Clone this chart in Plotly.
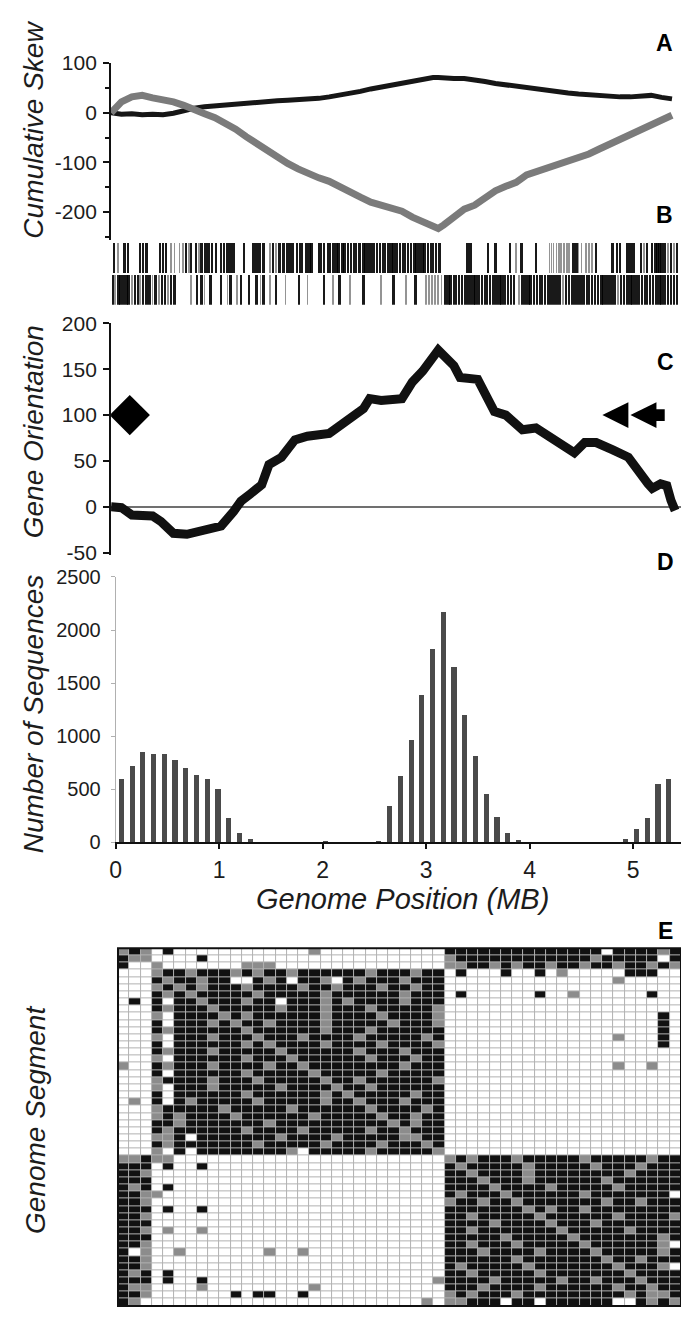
import plotly.graph_objects as go

W, H = 681, 1317

# ---- panel A: cumulative skew along the genome (MB)
skew_mb = [0.0, 0.1, 0.2, 0.3, 0.4, 0.5, 0.6, 0.7, 0.8, 0.9, 1.0, 1.1, 1.2, 1.3, 1.4, 1.5,
           1.6, 1.7, 1.8, 1.9, 2.0, 2.1, 2.2, 2.3, 2.4, 2.5, 2.6, 2.7, 2.8, 2.9, 3.0, 3.1,
           3.15, 3.2, 3.3, 3.4, 3.5, 3.6, 3.7, 3.8, 3.9, 4.0, 4.1, 4.2, 4.3, 4.4, 4.5, 4.6,
           4.7, 4.8, 4.9, 5.0, 5.1, 5.2, 5.3, 5.4]
skew_black = [0, -3, -2, -4, -3, -4, -1, 5, 9, 12, 14, 16, 18, 19, 21, 22,
              24, 25, 26, 27, 29, 32, 35, 39, 43, 48, 52, 57, 61, 65, 68, 71,
              71, 70, 69, 69, 67, 63, 59, 56, 53, 50, 47, 45, 43, 40, 38, 36,
              35, 33, 32, 32, 33, 35, 31, 28]
skew_gray = [0, 22, 32, 35, 30, 27, 22, 15, 5, -2, -10, -20, -33, -48, -62, -77,
             -92, -102, -113, -123, -131, -138, -150, -160, -170, -180, -186, -190, -198, -210, -220, -228,
             -233, -226, -212, -194, -186, -170, -157, -148, -140, -125, -118, -113, -103, -96, -90, -83,
             -73, -63, -55, -44, -33, -22, -12, -5]

# ---- panel B: gene positions (MB) on each strand
top_dark = [0.03, 0.13, 0.165, 0.28, 0.31, 0.34, 0.47, 0.50, 0.53, 0.72, 0.77, 0.82, 0.87, 0.91,
            0.94, 0.97, 1.01, 1.06, 1.09, 1.12, 1.15, 1.18, 1.28, 1.37, 1.40, 1.43, 1.47, 1.56,
            1.62, 1.66, 1.70, 1.73, 1.75, 1.79, 1.82, 1.84, 1.88, 1.91, 1.93, 2.00, 2.02, 2.05,
            2.09, 2.11, 2.14, 2.17, 2.19, 2.23, 2.25, 2.28, 2.31, 2.34, 2.36, 2.39, 2.43, 2.45,
            2.48, 2.51, 2.53, 2.56, 2.59, 2.62, 2.64, 2.67, 2.70, 2.72, 2.75, 2.78, 2.81, 2.83,
            2.86, 2.89, 2.92, 2.94, 2.97, 3.00, 3.02, 3.05, 3.08, 3.10, 3.13, 3.16, 3.43, 3.46,
            3.63, 3.70, 3.84, 3.95, 4.09, 4.45, 4.48, 4.67, 4.83, 4.87, 4.90, 4.97, 5.00, 5.03,
            5.10, 5.16, 5.21, 5.24, 5.26, 5.28, 5.30, 5.33, 5.39, 5.45]
top_light = [0.07, 0.58, 0.61, 0.66, 0.69, 0.75, 0.85, 1.53, 1.59, 3.90, 4.22, 4.24, 4.26,
             4.29, 4.31, 4.33, 4.36, 4.39, 4.41, 4.50, 4.53, 4.57, 4.60, 4.63, 5.13, 5.36, 5.42]
bot_dark = [0.02, 0.07, 0.09, 0.12, 0.15, 0.17, 0.23, 0.26, 0.31, 0.34, 0.37, 0.43, 0.49, 0.52,
            0.58, 0.61, 0.83, 0.87, 0.96, 1.06, 1.15, 1.25, 1.33, 1.40, 1.47, 1.59, 1.81, 2.05,
            2.20, 2.43, 2.72, 2.93, 3.22, 3.25, 3.27, 3.30, 3.32, 3.35, 3.38, 3.41, 3.43, 3.46,
            3.49, 3.51, 3.54, 3.57, 3.60, 3.62, 3.65, 3.68, 3.71, 3.74, 3.76, 3.79, 3.82, 3.85,
            3.88, 3.96, 3.99, 4.02, 4.04, 4.07, 4.10, 4.13, 4.15, 4.18, 4.21, 4.24, 4.27, 4.30,
            4.32, 4.38, 4.41, 4.44, 4.46, 4.49, 4.52, 4.55, 4.58, 4.60, 4.63, 4.66, 4.69, 4.72,
            4.74, 4.77, 4.80, 4.83, 4.85, 4.91, 4.94, 4.97, 5.00, 5.02, 5.05, 5.08, 5.11, 5.14,
            5.16, 5.19, 5.22, 5.25, 5.28, 5.30, 5.33, 5.36, 5.39, 5.42, 5.45]
bot_light = [0.04, 0.20, 0.28, 0.40, 0.46, 0.55, 0.77, 0.90, 1.12, 1.21, 1.44, 1.53, 1.68,
             1.89, 2.14, 2.30, 2.60, 2.84, 3.03, 3.06, 3.09, 3.12, 3.15, 3.18, 3.93, 4.35, 4.88]

# ---- panel C: cumulative gene orientation
orient_mb = [0.0, 0.1, 0.2, 0.3, 0.4, 0.48, 0.6, 0.73, 0.85, 1.0, 1.06, 1.18, 1.25, 1.34, 1.45,
             1.52, 1.64, 1.77, 1.89, 2.1, 2.18, 2.3, 2.43, 2.49, 2.6, 2.8, 2.9, 3.0, 3.15, 3.3,
             3.36, 3.53, 3.69, 3.8, 3.96, 4.09, 4.21, 4.33, 4.46, 4.56, 4.67, 4.83, 4.98, 5.17,
             5.21, 5.29, 5.35, 5.39, 5.43]
orient_val = [0, -1, -9, -10, -10, -16, -29, -30, -27, -24, -21, -5, 6, 14, 24,
              46, 54, 73, 77, 80, 86, 95, 107, 118, 116, 118, 136, 148, 171, 154,
              141, 139, 104, 100, 84, 86, 77, 68, 59, 70, 70, 62, 54, 25,
              20, 25, 23, 7, -4]
origin_mb, origin_val = [0.18], [100]
terminus_tips = [4.73, 5.00]   # arrow tips (MB) at orientation 100

# ---- panel D: number of sequences per genome bin
seq_counts = [600, 720, 855, 835, 835, 780, 700, 630, 600, 500, 230, 85, 30, 0, 0, 0,
              0, 0, 0, 5, 0, 0, 0, 0, 15, 340, 625, 962, 1384, 1822, 2166, 1656,
              1203, 812, 456, 240, 83, 20, 0, 0, 0, 0, 0, 0, 0, 0, 0, 30, 122, 230,
              552, 598]
BIN_MB = 0.1037

# ---- panel E: segment similarity matrix ('#' high, '+' mid, '.' low)
segment_rows = [
    "+#+.#..... .......+.. .........# ########## ###.####+#",
    "#++....#.. .......... .........+ ########## ##+#####.#",
    "#..+...... .+++...... .........+ +##+#+##+# #+##+##+#+",
    "...+##+### +#+##+#### ##+###+##. #...#..#.+ .....###..",
    "...#+##+## ..#+#.##+. #+###+###. .......... ....+.....",
    "...+#+#+## #+####+##+ ###+##+##. .......... ..........",
    "...#+#+### ##+#####+# #####+###. #......#.. +......#..",
    ".#.#.##+## #+##.###+# +####+###. .......... ..........",
    "...#+###+# ####+###+# ##+#####+. .......... ..........",
    "...+.####+ #+######+# ###+####+. .......... ........#.",
    "...#.###+# +##+####+# ####+###+. .......... ........#.",
    "...#+##### #+######+# ##+######. .......... ........#.",
    "...+.###+# ##+###+### #+#####+#. .......... ....+...#.",
    "...#.##### #+#+####+# ###+####+. .......... ........#.",
    "...#+###+# ####+##### #+###+###. .......... ..........",
    "...+.##### #+###+#### ##+###+##. .......... ..........",
    "+..#+###+# ###+##+### #####+###. .......... ....+..+..",
    "...#.##### #+#####+## ###+#####. .......... ..........",
    "...+####+# ##+#####+# #+######+. .......... ..........",
    "...+.###+# ####+####+ ##+######. .......... ..........",
    "...#.##### #+######+# +#####+##. .......... ..........",
    ".+.#.#+### ##+#####+# #+###+###. .......... ..........",
    "...+#####+ #####+#### ##+####+#. .......... ..........",
    "...+#+#### +######+## ###+##+##. .......... ..........",
    "...##+#### ###+###### ####+#+##. .......... ..........",
    "...#+##### #+####+### ##+##+###. .......... ..........",
    "...++#.### ####+####+ #####++##. .......... ..........",
    "...#+##### ##+#####+# ###+###+#. .......... ..........",
    "...+.#.### #####+.### ##+#####+. .......... ..........",
    "++#++..... .......... .........+ #+###+#### #+#####+##",
    "###.#..#.. .......... .........# +#####+### ##+###+###",
    "##+....... .......... .........# #+####+### #####+####",
    "###....... .......... .........# ##+###+### ###+######",
    "#+#.#..... .......... .........# ###+####+# ####+#####",
    "##++...... .......... .........# +###+##### #+#######.",
    "##+....... .......... .........+ ##+##+#### ###+##+###",
    "###.#..#.. .......... .........# ######+#+# #+########",
    "##+....... .......... .........# #+#####+## ####+####+",
    "###....... .......... .........# ###+####+# ##+#######",
    "##+.+..+.. .......... .........# #+#######+ #####+####",
    "###....... .......... .........# ####+##### +#######+#",
    "##+....... .......... .........# #+###+#### #+######+.",
    "#.+..+.... ...+..+... .........# ##+####+## ##+#####+#",
    "##+....... .......... .........# #####+#### ###+##+###",
    "##+....... .......... .........# +#####+### ####+###+.",
    "#+#.#..... .......... .........# #+#####+## #####+####",
    "###.#..#.. .......... ........+# ###+#####+ ##+###+###",
    "#++....+.. .......+.. .........# ##+####+## ####+##+##",
    "##+....... #.##..#... .........+ #+###+#### #####+#++#",
    "#+........ .......... .......+.+ +###.##.## ####..#+#+",
]

LEVEL = {".": 0, "+": 1, "#": 2}
seg_z = [[LEVEL[c] for c in row.replace(" ", "")] for row in segment_rows]
for r in seg_z:
    assert len(r) == 50


def fx(px):
    return px / W


def fy(py):
    return 1 - py / H


FONT = "Liberation Sans, Arial, sans-serif"
INK = "#1c1c1c"
XMAX_ABC = (W - 106) / 104.8

fig = go.Figure()

# A
fig.add_trace(go.Scatter(x=skew_mb, y=skew_black, mode="lines",
                         line=dict(color="#161616", width=5), xaxis="x", yaxis="y"))
fig.add_trace(go.Scatter(x=skew_mb, y=skew_gray, mode="lines",
                         line=dict(color="#7b7b7b", width=7), xaxis="x", yaxis="y"))

# B
for xs, base, col, wd in [(top_light, 1.03, "rgba(0,0,0,0.42)", 0.016),
                          (top_dark, 1.03, "rgba(0,0,0,0.9)", 0.024),
                          (bot_light, 0.0, "rgba(0,0,0,0.42)", 0.016),
                          (bot_dark, 0.0, "rgba(0,0,0,0.9)", 0.024)]:
    fig.add_trace(go.Bar(x=xs, y=[0.97] * len(xs), base=base, width=wd,
                         marker=dict(color=col, line=dict(width=0)),
                         xaxis="x2", yaxis="y2"))

# C
fig.add_trace(go.Scatter(x=orient_mb, y=orient_val, mode="lines",
                         line=dict(color="#111111", width=9), xaxis="x3", yaxis="y3"))
fig.add_trace(go.Scatter(x=origin_mb, y=origin_val, mode="markers",
                         marker=dict(symbol="diamond", size=31, color="#000000"),
                         xaxis="x3", yaxis="y3"))

# D
d_centers = [(i + 0.5) * BIN_MB for i in range(len(seq_counts))]
fig.add_trace(go.Bar(x=d_centers, y=seq_counts, width=0.05,
                     marker=dict(color="#4a4a4a", line=dict(width=0)),
                     xaxis="x4", yaxis="y4"))

# E
fig.add_trace(go.Heatmap(z=seg_z, x=list(range(50)), y=list(range(50)),
                         zmin=0, zmax=2, showscale=False, xgap=1, ygap=1,
                         colorscale=[[0, "#ffffff"], [0.5, "#8c8c8c"], [1, "#111111"]],
                         xaxis="x5", yaxis="y5"))

shapes = []
# terminus arrows
head_w, head_h, body_h = 0.25, 14, 6.5
t1, t2 = terminus_tips
for tip in terminus_tips:
    shapes.append(dict(type="path", xref="x3", yref="y3", layer="above",
                       path=f"M {tip},100 L {tip + head_w},{100 + head_h} L {tip + head_w},{100 - head_h} Z",
                       fillcolor="#000000", line=dict(width=0)))
shapes.append(dict(type="rect", xref="x3", yref="y3", x0=t2 + head_w - 0.02, x1=5.33,
                   y0=100 - body_h, y1=100 + body_h, fillcolor="#000000", line=dict(width=0)))
# heatmap grid background and frame
shapes.append(dict(type="rect", xref="x5 domain", yref="y5 domain", x0=0, x1=1, y0=0, y1=1,
                   fillcolor="#b2b2b2", line=dict(width=0), layer="below"))
shapes.append(dict(type="rect", xref="x5 domain", yref="y5 domain", x0=0, x1=1, y0=0, y1=1,
                   line=dict(color="#111111", width=2), layer="above"))

tickfont = dict(family=FONT, size=21, color=INK)
annotations = []
for letter, lx, ly in [("A", 664, 32), ("B", 664, 207), ("C", 665, 356),
                       ("D", 665, 560), ("E", 665, 935)]:
    annotations.append(dict(text=letter, x=fx(lx), y=fy(ly), xref="paper", yref="paper",
                            showarrow=False, xanchor="center", yanchor="middle",
                            font=dict(family=FONT, size=23, color="#000000", weight="bold")))
for txt, tx, ty, ang, fs in [("Cumulative Skew", 28, 120, -90, 28),
                             ("Gene Orientation", 28, 427, -90, 28),
                             ("Number of Sequences", 28, 714, -90, 28),
                             ("Genome Segment", 30, 1128, -90, 28),
                             ("Genome Position (MB)", 400, 903, 0, 29)]:
    annotations.append(dict(text=txt, x=fx(tx), y=fy(ty), xref="paper", yref="paper",
                            showarrow=False, xanchor="center", yanchor="middle", textangle=ang,
                            font=dict(family=FONT, size=fs, color=INK, style="italic")))

hidden = dict(visible=False, showgrid=False, zeroline=False)

fig.update_layout(
    width=W, height=H, margin=dict(l=0, r=0, t=0, b=0),
    paper_bgcolor="white", plot_bgcolor="white",
    showlegend=False, barmode="overlay", bargap=0,
    shapes=shapes, annotations=annotations,
    font=dict(family=FONT, color=INK),
    xaxis=dict(domain=[fx(106), 1], range=[0, XMAX_ABC], anchor="y", **hidden),
    yaxis=dict(domain=[fy(232), fy(52)], range=[-256, 100], anchor="x",
               showline=True, linecolor="#111111", linewidth=2, showgrid=False, zeroline=False,
               ticks="outside", ticklen=6, tickwidth=2, tickcolor="#111111",
               tickvals=[-200, -100, 0, 100], ticktext=["-200", "-100", "0", "100"],
               tickfont=tickfont, ticklabelstandoff=2,
               minor=dict(tickvals=[-250, -150, -50, 50], ticks="outside", ticklen=4,
                          tickwidth=1.5, tickcolor="#111111")),
    xaxis2=dict(domain=[fx(106), 1], range=[0, XMAX_ABC], anchor="y2", **hidden),
    yaxis2=dict(domain=[fy(298), fy(235)], range=[0, 2], anchor="x2", **hidden),
    xaxis3=dict(domain=[fx(106), 1], range=[0, XMAX_ABC], anchor="y3", **hidden),
    yaxis3=dict(domain=[fy(553), fy(317)], range=[-53, 200], anchor="x3",
                showline=True, linecolor="#111111", linewidth=2, showgrid=False,
                zeroline=True, zerolinecolor="#707070", zerolinewidth=2,
                ticks="outside", ticklen=6, tickwidth=2, tickcolor="#111111",
                tickvals=[-50, 0, 50, 100, 150, 200],
                ticktext=["-50", "0", "50", "100", "150", "200"],
                tickfont=tickfont, ticklabelstandoff=2),
    xaxis4=dict(domain=[fx(110.7), 1], range=[0, (W - 110.7) / 104.4], anchor="y4",
                showline=True, linecolor="#111111", linewidth=2, showgrid=False, zeroline=False,
                ticks="outside", ticklen=5, tickwidth=2, tickcolor="#111111",
                tickvals=[0, 1, 2, 3, 4, 5], tickfont=dict(family=FONT, size=23, color=INK),
                ticklabelstandoff=1),
    yaxis4=dict(domain=[fy(845), fy(575)], range=[0, 2500], anchor="x4",
                showline=True, linecolor="#b0b0b0", linewidth=1, showgrid=False, zeroline=False,
                ticks="outside", ticklen=4, tickwidth=1, tickcolor="#b0b0b0",
                tickvals=[0, 500, 1000, 1500, 2000, 2500],
                tickfont=dict(family=FONT, size=20, color=INK), ticklabelstandoff=6),
    xaxis5=dict(domain=[fx(113), 1], range=[-0.5, 49.5], anchor="y5", **hidden),
    yaxis5=dict(domain=[0, fy(953)], range=[49.5, -0.5], anchor="x5", **hidden),
)

# the page body keeps its default 8px margin otherwise, which pushes the chart off-screen
fig.write_html("out.html", config={"displayModeBar": False},
               post_script="document.body.style.margin='0';document.body.style.overflow='hidden';")
